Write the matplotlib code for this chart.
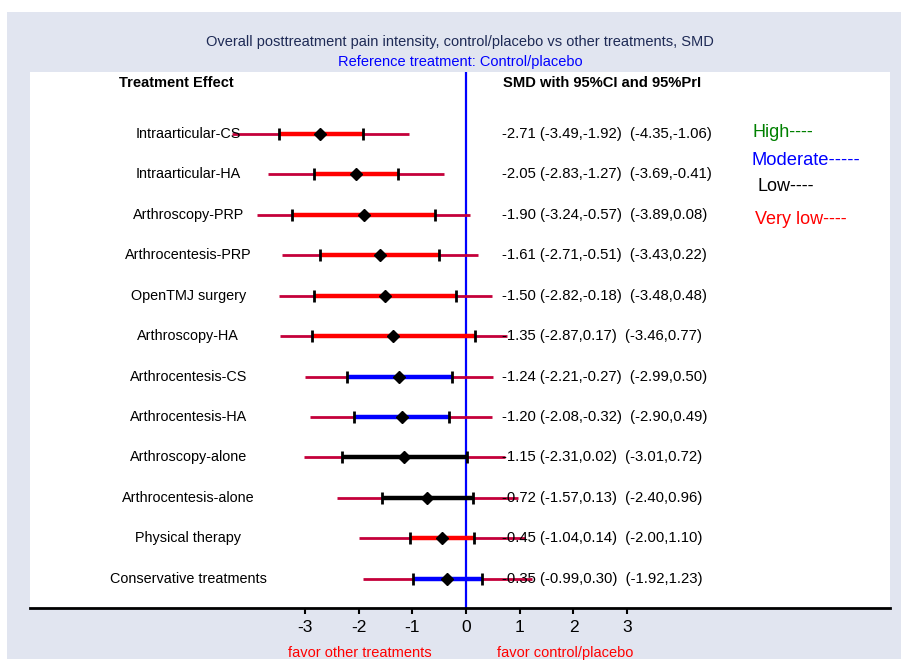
import numpy as np
import matplotlib.pyplot as plt
from matplotlib.patches import Rectangle
from matplotlib.transforms import blended_transform_factory

plt.rcParams['font.family'] = ['Liberation Sans', 'DejaVu Sans']

treatments = ['Intraarticular-CS', 'Intraarticular-HA', 'Arthroscopy-PRP',
              'Arthrocentesis-PRP', 'OpenTMJ surgery', 'Arthroscopy-HA',
              'Arthrocentesis-CS', 'Arthrocentesis-HA', 'Arthroscopy-alone',
              'Arthrocentesis-alone', 'Physical therapy', 'Conservative treatments']
smd = [-2.71, -2.05, -1.90, -1.61, -1.50, -1.35, -1.24, -1.20, -1.15, -0.72, -0.45, -0.35]
ci_lo = [-3.49, -2.83, -3.24, -2.71, -2.82, -2.87, -2.21, -2.08, -2.31, -1.57, -1.04, -0.99]
ci_hi = [-1.92, -1.27, -0.57, -0.51, -0.18, 0.17, -0.27, -0.32, 0.02, 0.13, 0.14, 0.30]
pri_lo = [-4.35, -3.69, -3.89, -3.43, -3.48, -3.46, -2.99, -2.90, -3.01, -2.40, -2.00, -1.92]
pri_hi = [-1.06, -0.41, 0.08, 0.22, 0.48, 0.77, 0.50, 0.49, 0.72, 0.96, 1.10, 1.23]
certainty = ['Very low', 'Very low', 'Very low', 'Very low', 'Very low', 'Very low',
             'Moderate', 'Moderate', 'Low', 'Low', 'Very low', 'Moderate']
cert_colors = {'High': 'green', 'Moderate': 'blue', 'Low': 'black', 'Very low': 'red'}
xticks = [-3, -2, -1, 0, 1, 2, 3]

fig = plt.figure(figsize=(9.01, 6.6), dpi=100)
fig.patch.set_facecolor('white')
fig.patches.append(Rectangle((7 / 901, 1 / 660), 894 / 901, 647 / 660,
                             transform=fig.transFigure, facecolor='#E1E5F0',
                             edgecolor='none', zorder=-1))

ax = fig.add_axes([30 / 901, 52 / 660, 860 / 901, 536 / 660])
ax.set_facecolor('white')
ax.set_xlim(-8.115, 7.891)
ax.set_ylim(11.74, -1.508)

ax.axvline(0, color='blue', lw=1.6, zorder=2)

y = np.arange(len(treatments)) + 0.02
for i in range(len(treatments)):
    ax.plot([pri_lo[i], pri_hi[i]], [y[i], y[i]], color='#C4003A', lw=2.0,
            solid_capstyle='butt', zorder=3)
    ax.plot([ci_lo[i], ci_hi[i]], [y[i], y[i]], color=cert_colors[certainty[i]],
            lw=3.2, solid_capstyle='butt', zorder=4)
    ax.plot([ci_lo[i], ci_hi[i]], [y[i], y[i]], ls='none', marker='|',
            color='black', ms=8, mew=2, zorder=5)
    ax.plot(smd[i], y[i], marker='D', color='black', ms=6.3, zorder=6)
    ax.text(-5.17, y[i], treatments[i], ha='center', va='center', fontsize=10.4)
    txt = f"{smd[i]:.2f} ({ci_lo[i]:.2f},{ci_hi[i]:.2f})  ({pri_lo[i]:.2f},{pri_hi[i]:.2f})"
    ax.text(0.67, y[i], txt, ha='left', va='center', fontsize=10.7, zorder=7)

ax.text(-6.46, -1.236, 'Treatment Effect', ha='left', va='center',
        fontsize=10.5, fontweight='bold')
ax.text(0.69, -1.236, 'SMD with 95%CI and 95%PrI', ha='left', va='center',
        fontsize=10.6, fontweight='bold')

ax.text(5.34, -0.02, 'High----', color='green', fontsize=13, va='center')
ax.text(5.32, 0.69, 'Moderate-----', color='blue', fontsize=13.2, va='center')
ax.text(5.43, 1.31, 'Low----', color='black', fontsize=13, va='center')
ax.text(5.38, 2.15, 'Very low----', color='red', fontsize=13, va='center')

for s in ['top', 'left', 'right']:
    ax.spines[s].set_visible(False)
ax.spines['bottom'].set_linewidth(2)
ax.set_yticks([])
ax.set_xticks(xticks)
ax.set_xticklabels([str(t) for t in xticks], fontsize=12.5)
ax.tick_params(axis='x', length=4, width=1.5, pad=4.5)

tr = blended_transform_factory(ax.transData, ax.transAxes)
ax.text(-1.98, -0.084, 'favor other treatments', color='red', fontsize=10.5,
        ha='center', va='center', transform=tr)
ax.text(1.85, -0.084, 'favor control/placebo', color='red', fontsize=10.5,
        ha='center', va='center', transform=tr)

fig.text(460 / 901, 618 / 660, 'Overall posttreatment pain intensity, control/placebo vs other treatments, SMD',
         ha='center', va='center', fontsize=10.5, color='#1E2A55')
fig.text(460 / 901, 598 / 660, 'Reference treatment: Control/placebo',
         ha='center', va='center', fontsize=10.5, color='blue')

fig.savefig('out.png', dpi=100)
